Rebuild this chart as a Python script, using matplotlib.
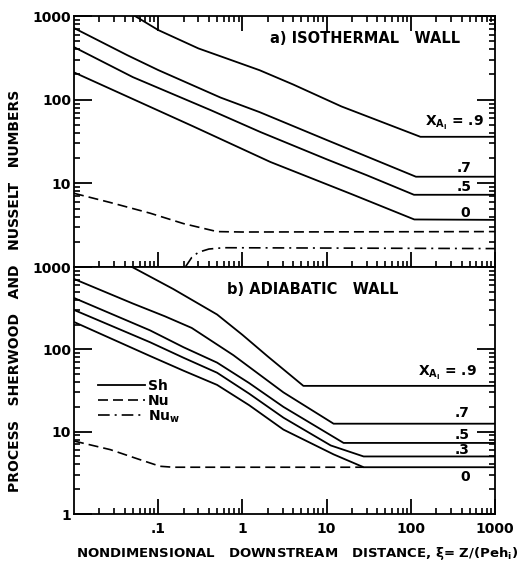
import matplotlib
matplotlib.use("Agg")
import matplotlib.pyplot as plt

# ---- a) isothermal wall: Sherwood numbers for each inlet mole fraction ----
iso_xi_09 = [0.053, 0.1, 0.3, 0.6, 1.6, 4, 15, 130, 1000]
iso_sh_09 = [1000, 680, 410, 320, 225, 152, 83, 36, 36]
iso_xi_07 = [0.01, 0.043, 0.1, 0.55, 1.6, 10, 115, 1000]
iso_sh_07 = [718, 340, 226, 106, 71, 33, 12, 12]
iso_xi_05 = [0.01, 0.05, 0.42, 1.64, 10, 30, 109, 1000]
iso_sh_05 = [425, 186, 75, 41, 19.4, 12.5, 7.3, 7.3]
iso_xi_0 = [0.01, 0.26, 2.15, 20, 110, 1000]
iso_sh_0 = [212, 48, 18, 7.4, 3.7, 3.66]
iso_xi_nu = [0.01, 0.027, 0.08, 0.2, 0.5, 1, 1000]
iso_nu = [7.6, 5.9, 4.4, 3.3, 2.65, 2.62, 2.65]
iso_xi_nuw = [0.21, 0.25, 0.3, 0.4, 0.6, 1000]
iso_nuw = [1.0, 1.3, 1.5, 1.64, 1.7, 1.66]

# ---- b) adiabatic wall ----
adi_xi_09 = [0.049, 0.151, 0.5, 1.0, 2.0, 5.3, 1000]
adi_sh_09 = [1000, 540, 265, 150, 82, 36, 36]
adi_xi_07 = [0.01, 0.05, 0.12, 0.25, 0.78, 3.07, 12.1, 1000]
adi_sh_07 = [716, 360, 252, 182, 85, 30, 12.5, 12.5]
adi_xi_05 = [0.01, 0.08, 0.2, 0.5, 1.2, 3.07, 15.9, 1000]
adi_sh_05 = [421, 170, 106, 69, 39, 20, 7.3, 7.3]
adi_xi_03 = [0.01, 0.08, 0.2, 0.5, 1.2, 3.07, 11.2, 27.5, 1000]
adi_sh_03 = [301, 122, 79, 52, 29, 14.8, 6.8, 5.0, 5.0]
adi_xi_0 = [0.01, 0.08, 0.2, 0.5, 1.2, 3.07, 12.1, 27.5, 1000]
adi_sh_0 = [215, 83, 55, 37, 21, 10.6, 5.3, 3.7, 3.7]
adi_xi_nu = [0.01, 0.027, 0.056, 0.105, 0.15, 27.5]
adi_nu = [7.7, 6.05, 4.7, 3.8, 3.7, 3.7]

x_ticks = [0.1, 1, 10, 100, 1000]
x_tick_labels = [".1", "1", "10", "100", "1000"]
y_ticks = [1, 10, 100, 1000]
y_tick_labels = ["1", "10", "100", "1000"]

FONT = "DejaVu Sans"
plt.rcParams["font.family"] = FONT
plt.rcParams["font.weight"] = "bold"
plt.rcParams["mathtext.default"] = "regular"
plt.rcParams["xtick.direction"] = "in"
plt.rcParams["ytick.direction"] = "in"
plt.rcParams["xtick.major.size"] = 11
plt.rcParams["ytick.major.size"] = 13
plt.rcParams["xtick.minor.size"] = 4.5
plt.rcParams["ytick.minor.size"] = 4.5
plt.rcParams["xtick.major.width"] = 1.3
plt.rcParams["ytick.major.width"] = 1.3
plt.rcParams["xtick.minor.width"] = 1.2
plt.rcParams["ytick.minor.width"] = 1.2

SOLID = dict(color="black", lw=1.3)
DASH = dict(color="black", lw=1.2, linestyle=(0, (6, 3)))
DASHDOT = dict(color="black", lw=1.2, linestyle=(0, (7, 3, 1.2, 3)))

fig = plt.figure(figsize=(5.23, 5.62), dpi=100)
ax_top = fig.add_axes([0.1415, 0.5249, 0.805, 0.4466])
ax_bot = fig.add_axes([0.1415, 0.0854, 0.805, 0.4395])

# minor tick positions 2..9 in every decade
x_minor = [k * 10.0 ** e for e in range(-2, 3) for k in range(2, 10)]
y_minor = [k * 10.0 ** e for e in range(0, 3) for k in range(2, 10)]


def style_axis(ax, top_ticks):
    ax.set_xscale("log")
    ax.set_yscale("log")
    ax.set_xlim(0.01, 1000)
    ax.set_ylim(1, 1000)
    ax.set_xticks(x_ticks)
    ax.set_xticklabels(x_tick_labels, fontsize=10)
    ax.set_yticks(y_ticks)
    ax.set_yticklabels(y_tick_labels, fontsize=10)
    ax.set_xticks(x_minor, minor=True)
    ax.set_yticks(y_minor, minor=True)
    ax.set_xticklabels([], minor=True)
    ax.set_yticklabels([], minor=True)
    ax.tick_params(which="both", top=top_ticks, right=True, color="black")
    ax.tick_params(axis="x", which="major", pad=6)
    ax.tick_params(axis="y", which="major", pad=2)
    for sp in ax.spines.values():
        sp.set_linewidth(1.3)


style_axis(ax_top, True)
style_axis(ax_bot, False)
ax_top.tick_params(labelbottom=False)
ax_top.set_yticklabels(["", "10", "100", "1000"])

# top panel
for xs, ys in [(iso_xi_09, iso_sh_09), (iso_xi_07, iso_sh_07),
               (iso_xi_05, iso_sh_05), (iso_xi_0, iso_sh_0)]:
    ax_top.plot(xs, ys, **SOLID)
ax_top.plot(iso_xi_nu, iso_nu, **DASH)
ax_top.plot(iso_xi_nuw, iso_nuw, **DASHDOT)

# bottom panel
ax_bot.plot(adi_xi_09, adi_sh_09, label="Sh", **SOLID)
for xs, ys in [(adi_xi_07, adi_sh_07), (adi_xi_05, adi_sh_05),
               (adi_xi_03, adi_sh_03), (adi_xi_0, adi_sh_0)]:
    ax_bot.plot(xs, ys, **SOLID)
ax_bot.plot(adi_xi_nu, adi_nu, label="Nu", **DASH)
ax_bot.plot([], [], label="Nu$_w$", **DASHDOT)

ax_bot.legend(loc="upper left", bbox_to_anchor=(0.04, 0.575), frameon=False,
              handlelength=3.4, handletextpad=0.2, labelspacing=0.05,
              borderpad=0, prop=dict(size=10, weight="bold"))

# panel titles
ax_top.text(0.466, 0.912, "a) ISOTHERMAL   WALL", transform=ax_top.transAxes,
            fontsize=10.5, ha="left", va="center")
ax_bot.text(0.363, 0.907, "b) ADIABATIC   WALL", transform=ax_bot.transAxes,
            fontsize=10.5, ha="left", va="center")

# curve labels
lab = dict(fontsize=10, va="center")
ax_top.text(0.834, 0.574, "X$_{A_i}$ = .9", transform=ax_top.transAxes, ha="left", **lab)
ax_top.text(0.945, 0.394, ".7", transform=ax_top.transAxes, ha="right", **lab)
ax_top.text(0.945, 0.319, ".5", transform=ax_top.transAxes, ha="right", **lab)
ax_top.text(0.940, 0.215, "0", transform=ax_top.transAxes, ha="right", **lab)

ax_bot.text(0.817, 0.571, "X$_{A_i}$ = .9", transform=ax_bot.transAxes, ha="left", **lab)
ax_bot.text(0.940, 0.409, ".7", transform=ax_bot.transAxes, ha="right", **lab)
ax_bot.text(0.940, 0.320, ".5", transform=ax_bot.transAxes, ha="right", **lab)
ax_bot.text(0.940, 0.259, ".3", transform=ax_bot.transAxes, ha="right", **lab)
ax_bot.text(0.940, 0.150, "0", transform=ax_bot.transAxes, ha="right", **lab)

# axis labels
fig.text(0.569, 1 - 553 / 562,
         r"NONDIMENSIONAL   DOWNSTREAM   DISTANCE, $\xi$= Z/(Peh$_i$)",
         ha="center", va="center", fontsize=9.5, fontweight="bold")
fig.text(0.0287, 0.482, "PROCESS   SHERWOOD   AND   NUSSELT   NUMBERS",
         rotation=90, ha="center", va="center", fontsize=10)

fig.savefig("out.png", dpi=100)
